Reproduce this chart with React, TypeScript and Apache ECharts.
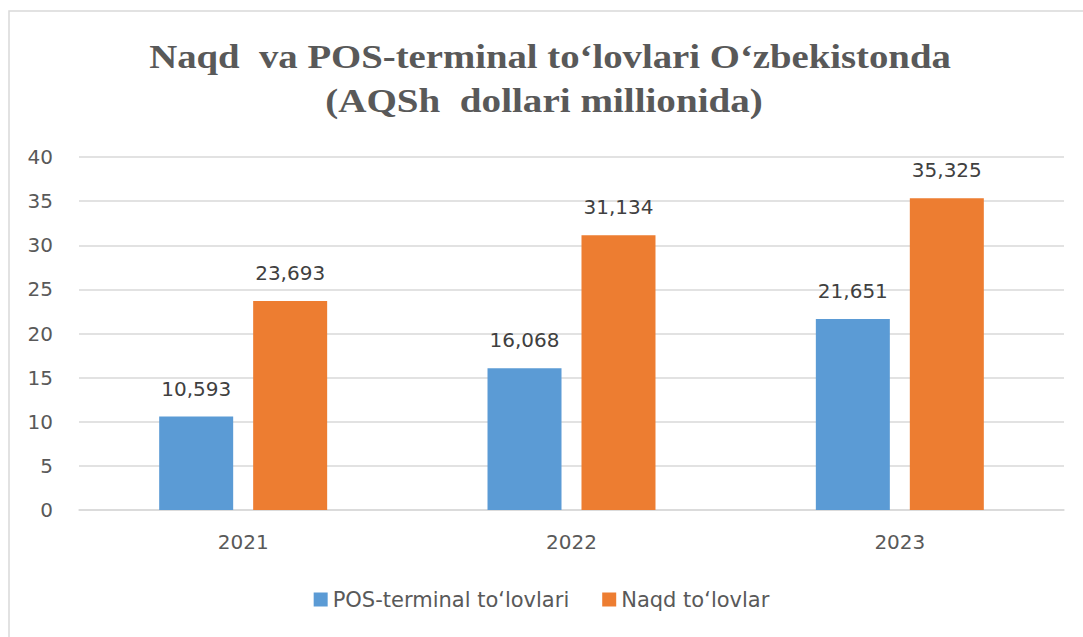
import React, { useEffect, useRef } from "react";
import * as echarts from "echarts";

const categories = ["2021", "2022", "2023"];
const posValues = [10.593, 16.068, 21.651];
const cashValues = [23.693, 31.134, 35.325];
const seriesNames = ["POS-terminal to‘lovlari", "Naqd to‘lovlar"];
const titleLines = ["Naqd  va POS-terminal to‘lovlari O‘zbekistonda", "(AQSh  dollari millionida)"];

const fmt = (v: number) => v.toFixed(3).replace(".", ",");
const SANS = "'DejaVu Sans', sans-serif";
const SERIF = "'Liberation Serif', 'Times New Roman', serif";

export default function App() {
  const ref = useRef<HTMLDivElement>(null);
  useEffect(() => {
    document.body.style.margin = "0";
    const chart = echarts.init(ref.current!, null, { renderer: "svg" });
    chart.setOption({
      animation: false,
      backgroundColor: "#ffffff",
      graphic: [
        {
          type: "rect",
          shape: { x: 9, y: 11, width: 1200, height: 700 },
          style: { fill: "none", stroke: "#d9d9d9", lineWidth: 1.5 },
          silent: true,
        },
        {
          type: "text",
          x: 550,
          y: 57,
          scaleX: 1.14,
          style: {
            text: titleLines[0],
            font: `bold 34px ${SERIF}`,
            fill: "#595959",
            align: "center",
            verticalAlign: "middle",
          },
        },
        {
          type: "text",
          x: 544,
          y: 100,
          scaleX: 1.15,
          style: {
            text: titleLines[1],
            font: `bold 34px ${SERIF}`,
            fill: "#595959",
            align: "center",
            verticalAlign: "middle",
          },
        },
      ],
      grid: { left: 79, right: 19, top: 157, bottom: 127 },
      legend: {
        bottom: 22,
        left: "center",
        itemWidth: 14,
        itemHeight: 14,
        itemGap: 33,
        icon: "rect",
        textStyle: { color: "#595959", fontSize: 21, fontFamily: SANS },
        data: seriesNames,
      },
      xAxis: {
        type: "category",
        data: categories,
        axisLine: { show: true, lineStyle: { color: "#d9d9d9", width: 1.5 } },
        axisTick: { show: false },
        axisLabel: { color: "#595959", fontSize: 20, fontFamily: SANS, margin: 22 },
      },
      yAxis: {
        type: "value",
        min: 0,
        max: 40,
        interval: 5,
        axisLine: { show: false },
        axisTick: { show: false },
        splitLine: { lineStyle: { color: "#d9d9d9", width: 1.5 } },
        axisLabel: { color: "#595959", fontSize: 20, fontFamily: SANS, margin: 26 },
      },
      series: [
        {
          name: seriesNames[0],
          type: "bar",
          data: posValues,
          barWidth: 74,
          barGap: "27%",
          itemStyle: { color: "#5B9BD5" },
          label: {
            show: true,
            position: "top",
            distance: 18,
            formatter: (p: any) => fmt(p.value),
            color: "#404040",
            fontSize: 20,
            fontFamily: SANS,
          },
        },
        {
          name: seriesNames[1],
          type: "bar",
          data: cashValues,
          barWidth: 74,
          itemStyle: { color: "#ED7D31" },
          label: {
            show: true,
            position: "top",
            distance: 18,
            formatter: (p: any) => fmt(p.value),
            color: "#404040",
            fontSize: 20,
            fontFamily: SANS,
          },
        },
      ],
    });
    return () => chart.dispose();
  }, []);
  return <div ref={ref} style={{ width: 1083, height: 637 }} />;
}
